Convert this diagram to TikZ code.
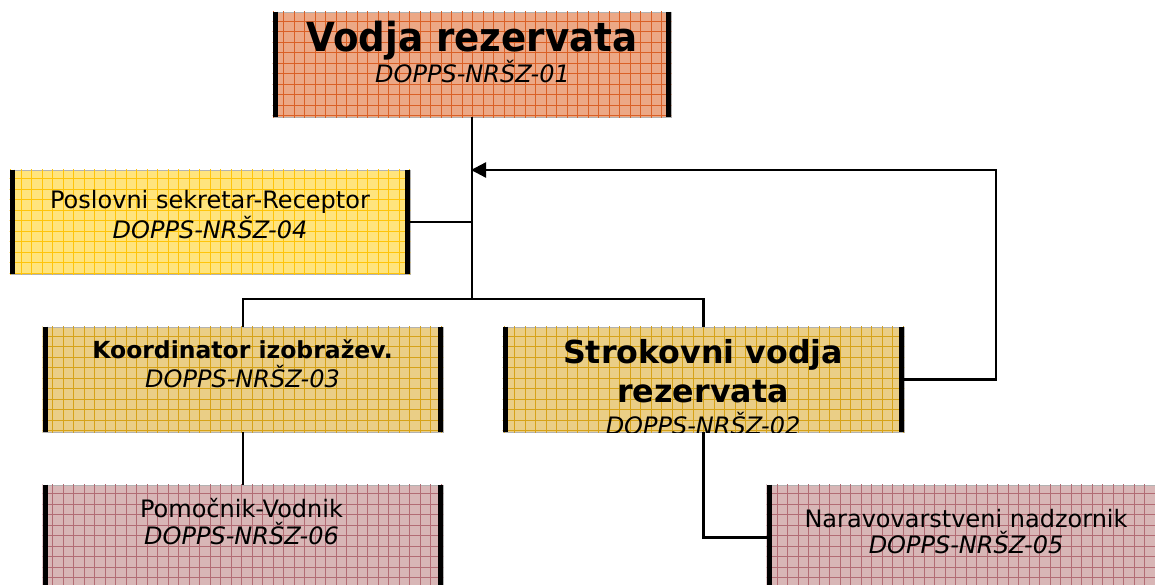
\documentclass[tikz,border=0pt]{standalone}
\usepackage{fontspec}
\setmainfont{DejaVu Sans}
\newfontfamily\titlefont{DejaVu Sans}[FakeStretch=0.93]
\usetikzlibrary{arrows.meta}
\definecolor{orfill}{RGB}{236,168,134}
\definecolor{orgrid}{RGB}{218,96,38}
\definecolor{yefill}{RGB}{255,228,125}
\definecolor{yegrid}{RGB}{255,196,10}
\definecolor{tafill}{RGB}{234,206,134}
\definecolor{tagrid}{RGB}{214,162,24}
\definecolor{mafill}{RGB}{216,182,182}
\definecolor{magrid}{RGB}{178,108,116}
\newcommand\mygrid[2]{%
  \begin{scope}
    \clip (#1.north west) rectangle (#1.south east);
    \foreach \gx in {0,10.5,...,1165} \draw[#2, line width=0.8pt] (\gx,0) -- (\gx,600);
    \foreach \gy in {0,10.5,...,600} \draw[#2, line width=0.8pt] (0,\gy) -- (1165,\gy);
  \end{scope}}
\begin{document}
\begin{tikzpicture}[x=1pt,y=-1pt,
  box/.style={minimum width=400pt, minimum height=105pt, inner sep=0pt,
    fill=#1fill, draw=black!30, line width=0.6pt},
  bar/.style={line width=5pt, black},
  conn/.style={line width=2.3pt, black},
  lbl/.style={anchor=base, inner sep=0pt, font=\fontsize{24}{28}\selectfont},
  itl/.style={anchor=base, inner sep=0pt, font=\fontsize{24}{28}\selectfont\itshape},
  bld/.style={anchor=base, inner sep=0pt, font=\bfseries\fontsize{#1}{#1}\selectfont}
]
\clip (0,0) rectangle (1155,585);
\fill[white] (0,0) rectangle (1155,585);

% boxes
\node[box=or, minimum width=398pt] (top) at (472,64.5) {};
\node[box=ye, minimum height=104pt] (posl) at (210,222) {};
\node[box=ta] (koord) at (243,379.5) {};
\node[box=ta, minimum width=401pt] (strok) at (703.5,379.5) {};
\node[box=ma] (pomoc) at (243,537.5) {};
\node[box=ma] (narav) at (967,537.5) {};

\mygrid{top}{orgrid}
\mygrid{posl}{yegrid}
\mygrid{koord}{tagrid}
\mygrid{strok}{tagrid}
\mygrid{pomoc}{magrid}
\mygrid{narav}{magrid}

% thick side bars
\foreach \b in {top,posl,koord,strok,pomoc,narav}{
  \draw[bar] ([xshift=2.5pt]\b.north west) -- ([xshift=2.5pt]\b.south west);
  \draw[bar] ([xshift=-2.5pt]\b.north east) -- ([xshift=-2.5pt]\b.south east);
}

% connectors
\coordinate (bus) at (472,299);
\coordinate (fb) at (996,170);
\draw[conn] (top.south) -- (bus);
\draw[conn] (koord.north) |- (bus) -| (strok.north);
\draw[conn] (posl.east) -- (posl.east -| top.south);
\draw[conn, -{Triangle[length=15pt,width=15pt]}, shorten >=-1pt] (strok.east) -| (fb) -- (fb -| top.south);
\draw[conn] (koord.south) -- (pomoc.north);
\draw[conn] (strok.south) |- (narav.west);

% texts
\node[anchor=base, inner sep=0pt, font=\titlefont\bfseries\fontsize{40}{46}\selectfont] (t1) at (472,52) {Vodja rezervata};
\node[itl] (t1b) at (472.5,83) {DOPPS-NRŠZ-01};

\node[lbl] (t4) at (210,209) {Poslovni sekretar-Receptor};
\node[itl] (t4b) at (210,238) {DOPPS-NRŠZ-04};

\node[bld=23.5] (t3) at (242.5,358) {Koordinator izobražev.};
\node[itl] (t3b) at (242.5,387) {DOPPS-NRŠZ-03};

\begin{scope}
  \clip (strok.north west) rectangle (strok.south east);
  \node[bld=31.7] (t2) at (703,363) {Strokovni vodja};
  \node[bld=31.7] (t2a) at (703,402) {rezervata};
  \node[itl] (t2b) at (703,434) {DOPPS-NRŠZ-02};
\end{scope}

\node[lbl] (t6) at (241.5,517) {Pomočnik-Vodnik};
\node[itl] (t6b) at (241.5,544) {DOPPS-NRŠZ-06};

\node[lbl] (t5) at (966,527) {Naravovarstveni nadzornik};
\node[itl] (t5b) at (966,553) {DOPPS-NRŠZ-05};
\end{tikzpicture}
\end{document}
